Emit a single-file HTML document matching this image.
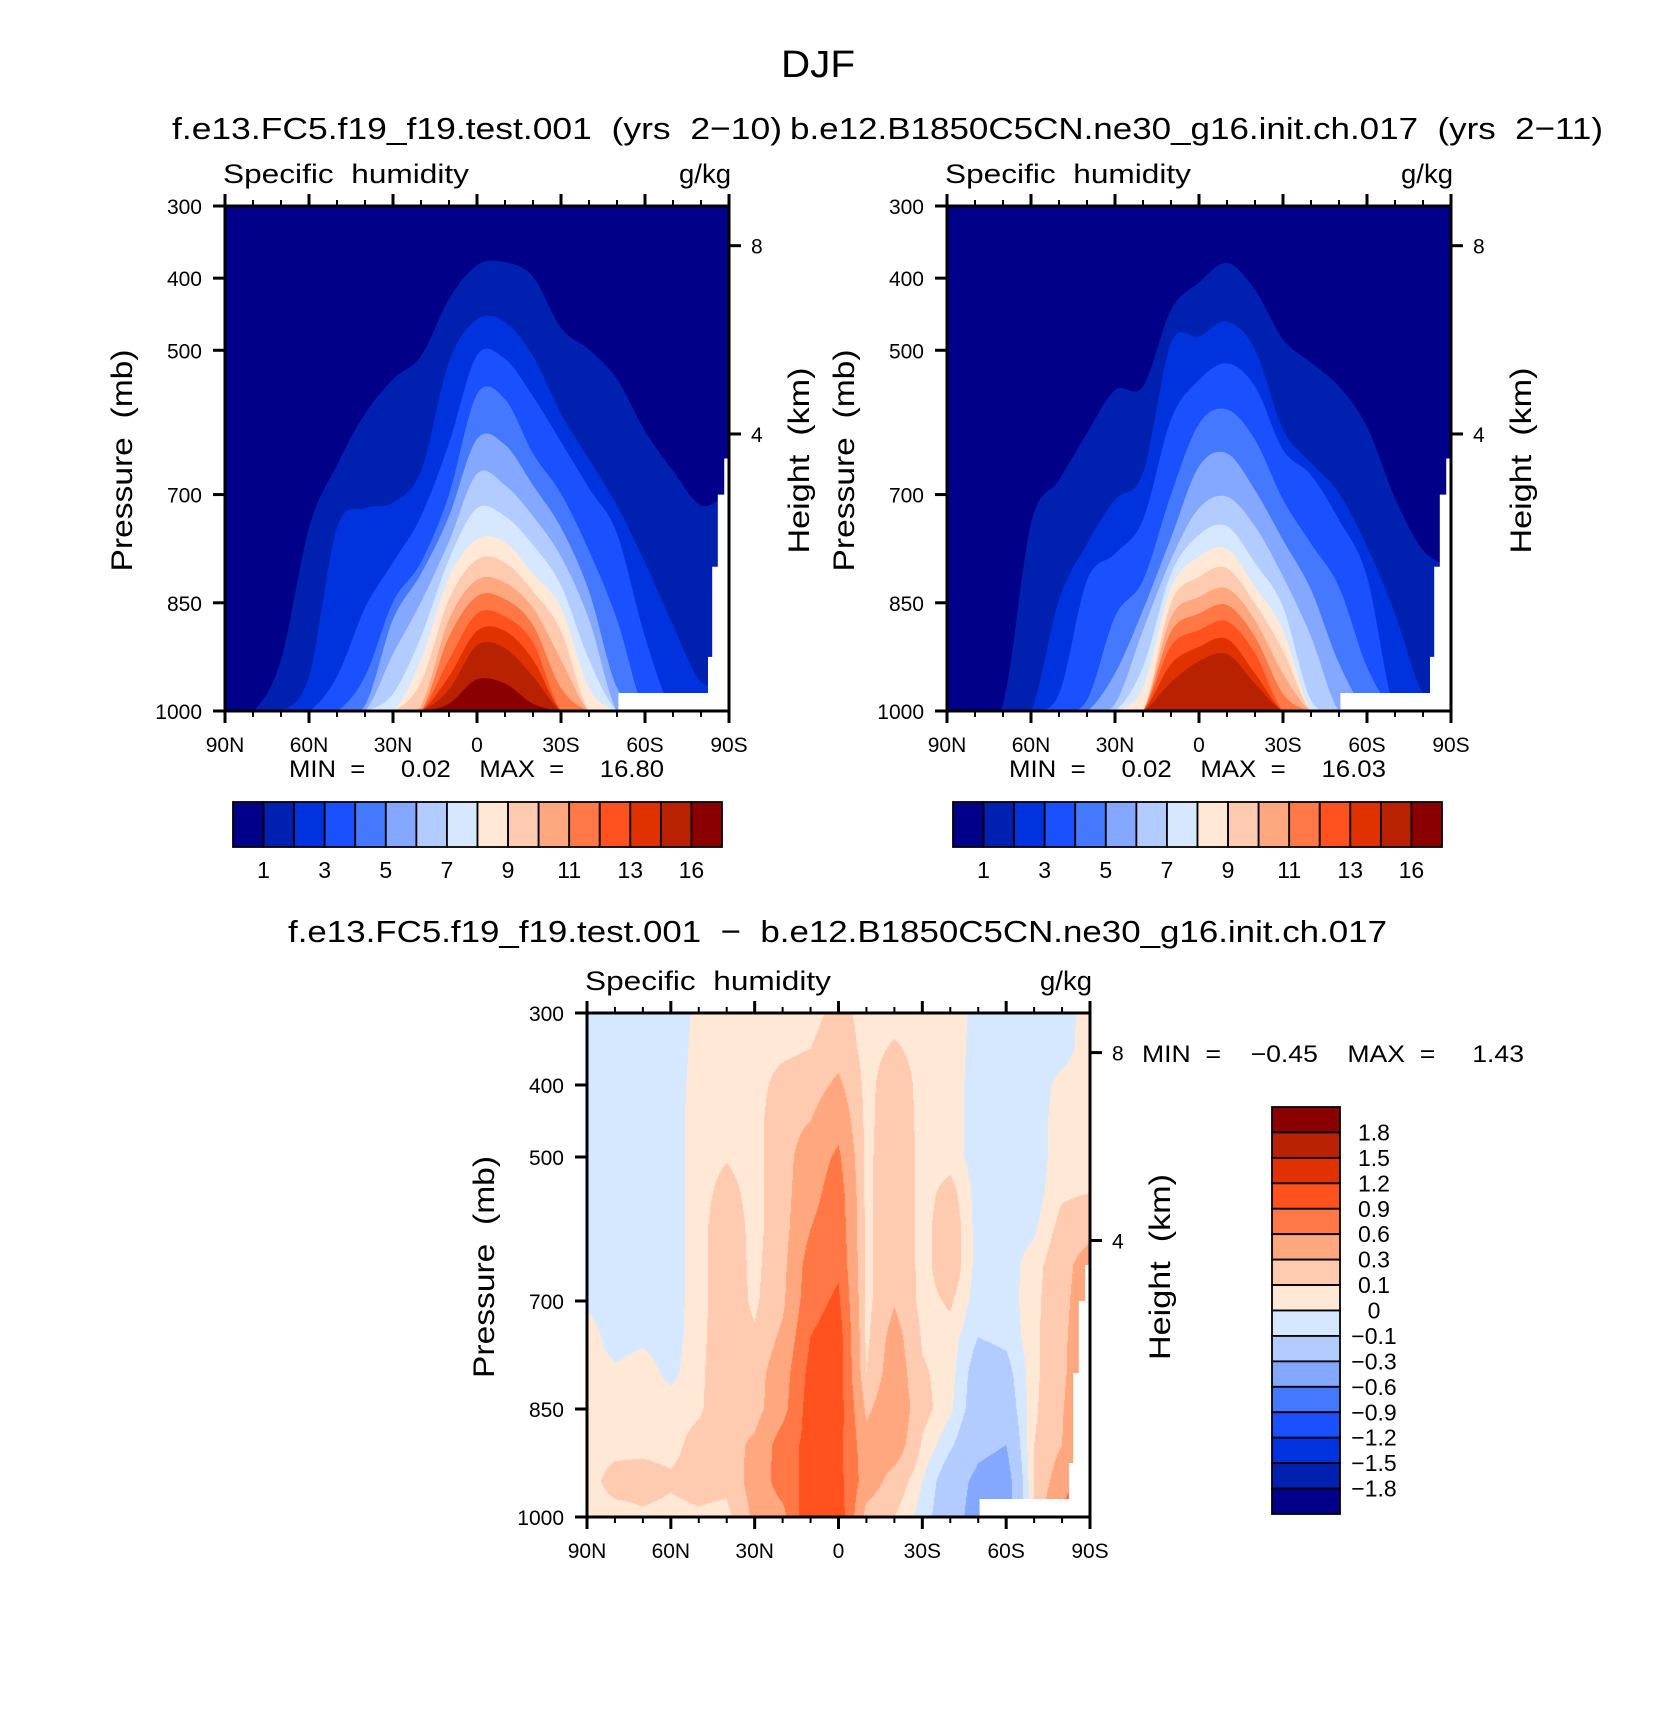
<!DOCTYPE html>
<html><head><meta charset="utf-8">
<style>
html,body{margin:0;padding:0;background:#fff;}
#wrap{position:relative;width:1680px;height:1724px;overflow:hidden;}
#diffCanvas{position:absolute;left:587px;top:1013px;}
#fig{position:absolute;left:0;top:0;}
text{font-family:"Liberation Sans",sans-serif;fill:#000;white-space:pre;}
</style></head>
<body>
<div id="wrap">
<canvas id="diffCanvas" width="503" height="504"></canvas>
<svg id="fig" width="1680" height="1724" xmlns="http://www.w3.org/2000/svg"></svg>
</div>
<script>
// ---------- data ----------
const lats=[90,80,70,60,50,40,30,20,10,0,-10,-20,-30,-40,-50,-60,-70,-80,-90];
const pressureTicks=[300,400,500,700,850,1000];
const latTicks=[90,60,30,0,-30,-60,-90];
const latLabels=['90N','60N','30N','0','30S','60S','90S'];
const heightTickKm=['8','4'];
const heightTickP=[355,616];
const levelColors=['#000088','#0020b0','#0033dd','#1a50ff','#4479ff','#84a8ff','#b3ccff','#d6e8ff','#ffe9d6','#ffcbb0','#ffa880','#ff7845','#ff521e','#e03200','#b82200','#8a0000'];
const qLabels=['1','3','5','7','9','11','13','16'];
const diffLevels=[-1.8,-1.5,-1.2,-0.9,-0.6,-0.3,-0.1,0,0.1,0.3,0.6,0.9,1.2,1.5,1.8];
const diffLabels=['1.8','1.5','1.2','0.9','0.6','0.3','0.1','0','\u22120.1','\u22120.3','\u22120.6','\u22120.9','\u22121.2','\u22121.5','\u22121.8'];
const diffRowsP=[300,350,400,450,500,550,600,650,700,750,800,850,900,950,1000];
const n=null;
// contour-level boundaries (pressure in mb of top of each level region, per latitude)
const ctlLevelTops=[
[n,1000,929,746,659,588,540,508,429,382,378,398,469,499,540,612,667,715,699],
[n,n,n,952,746,719,711,667,516,457,461,508,588,651,715,794,881,960,960],
[n,n,n,n,952,857,794,730,629,507,512,564,627,691,754,897,n,n,n],
[n,n,n,n,n,952,849,794,700,561,568,643,699,778,873,n,n,n,n],
[n,n,n,n,n,992,873,810,730,623,631,687,746,834,968,n,n,n,n],
[n,n,n,n,n,n,921,849,765,671,687,730,786,873,n,n,n,n,n],
[n,n,n,n,n,n,976,897,790,719,730,770,826,929,n,n,n,n,n],
[n,n,n,n,n,n,n,929,815,762,766,810,857,968,n,n,n,n,n],
[n,n,n,n,n,n,n,960,845,790,794,834,889,n,n,n,n,n,n],
[n,n,n,n,n,n,n,992,873,818,822,857,929,n,n,n,n,n,n],
[n,n,n,n,n,n,n,n,897,841,845,881,968,n,n,n,n,n,n],
[n,n,n,n,n,n,n,n,929,865,869,905,n,n,n,n,n,n,n],
[n,n,n,n,n,n,n,n,952,889,889,929,n,n,n,n,n,n,n],
[n,n,n,n,n,n,n,n,970,909,913,952,n,n,n,n,n,n,n],
[n,n,n,n,n,n,n,n,990,956,962,990,n,n,n,n,n,n,n]
];
const expLevelTops=[
[n,n,990,740,680,615,555,550,444,406,379,416,485,517,550,606,705,777,800],
[n,n,n,n,846,768,707,670,490,481,460,499,610,656,698,772,865,976,990],
[n,n,n,n,976,819,782,735,596,541,518,550,638,673,735,814,n,n,n],
[n,n,n,n,n,985,869,819,700,602,582,624,707,768,828,939,n,n,n],
[n,n,n,n,n,n,948,860,760,661,643,694,763,832,934,n,n,n,n],
[n,n,n,n,n,n,990,888,790,719,703,744,814,897,n,n,n,n,n],
[n,n,n,n,n,n,n,939,810,756,744,795,856,985,n,n,n,n,n],
[n,n,n,n,n,n,n,967,830,786,775,828,888,n,n,n,n,n,n],
[n,n,n,n,n,n,n,n,850,814,802,851,916,n,n,n,n,n,n],
[n,n,n,n,n,n,n,n,870,842,830,874,948,n,n,n,n,n,n],
[n,n,n,n,n,n,n,n,890,865,853,897,976,n,n,n,n,n,n],
[n,n,n,n,n,n,n,n,910,888,876,920,n,n,n,n,n,n,n],
[n,n,n,n,n,n,n,n,935,911,900,948,n,n,n,n,n,n,n],
[n,n,n,n,n,n,n,n,960,931,921,962,n,n,n,n,n,n,n]
];
// difference field, one column per latitude, rows = diffRowsP
const diffValues=[
[-.05,-.05,-.05,-.05,-.05,-.05,-.05,-.05,-.02,.05,.05,.05,.05,.05,.05],
[-.05,-.05,-.05,-.05,-.05,-.05,-.05,-.05,-.05,-.05,.02,.05,.06,.15,.05],
[-.05,-.05,-.05,-.05,-.05,-.05,-.05,-.05,-.05,-.02,.05,.05,.07,.15,.08],
[-.05,-.05,-.05,-.05,-.05,-.05,-.05,-.05,-.05,-.05,-.03,.05,.06,.12,.06],
[.02,.03,.04,.05,.05,.05,.05,.05,.05,.06,.07,.08,.15,.15,.08],
[.05,.05,.06,.08,.09,.15,.2,.2,.2,.2,.2,.2,.2,.15,.05],
[.05,.05,.05,.05,.05,.05,.05,.06,.07,.12,.2,.2,.35,.4,.35],
[.05,.07,.15,.2,.2,.2,.2,.22,.25,.35,.45,.5,.75,.75,.5],
[.05,.1,.2,.3,.45,.5,.6,.75,.8,.9,1.0,1.05,1.0,1.0,1.2],
[.15,.2,.35,.5,.65,.75,.8,.85,.95,1.05,1.05,1.05,1.0,1.0,1.1],
[.05,.05,.05,.05,.05,.05,.05,.05,.05,.06,.1,.25,.4,.45,.2],
[.05,.12,.2,.22,.25,.25,.25,.25,.28,.4,.45,.5,.45,.2,.1],
[.05,.05,.05,.05,.05,.05,.05,.05,.05,.08,.12,.15,.08,0,-.05],
[.05,.05,.05,.05,.05,.15,.2,.2,.12,.05,.04,.02,-.08,-.2,-.2],
[-.03,-.04,-.05,-.05,-.05,-.05,-.05,-.05,-.06,-.1,-.18,-.2,-.25,-.35,-.4],
[-.05,-.05,-.05,-.05,-.05,-.05,-.05,-.05,-.05,-.07,-.15,-.2,-.3,-.4,-.4],
[-.05,-.05,-.05,-.05,-.05,-.05,-.02,.05,.06,.06,.06,.07,.1,.1,.1],
[-.05,-.04,.03,.05,.05,.08,.15,.2,.22,.25,.25,.28,.3,.45,.7],
[.05,.05,.05,.05,.05,.1,.2,.45,.5,.5,.55,.6,.7,.8,.9]
];
const maskLats=[-50.5,-82.5,-84,-86,-88.3,-90];
const maskP=[975,925,800,700,650,650];

// ---------- helpers ----------
const NS='http://www.w3.org/2000/svg';
const svg=document.getElementById('fig');
function el(tag,attrs,parent){const e=document.createElementNS(NS,tag);for(const k in attrs)e.setAttribute(k,attrs[k]);(parent||svg).appendChild(e);return e;}
function txt(s,x,y,size,anchor,parent,extra){const t=el('text',Object.assign({x:x,y:y,'font-size':size,'text-anchor':anchor||'start'},extra||{}),parent);t.textContent=s;return t;}
function makeAxes(x0,y0,w,h){return{x0,y0,w,h,x:lat=>x0+(90-lat)/180*w,y:p=>y0+(p-300)/700*h};}
const A=makeAxes(225,206,504,505), B=makeAxes(947,206,504,505), C=makeAxes(587,1013,503,504);

function smoothPath(pts){
  let d='M'+pts[0][0]+','+pts[0][1];
  for(let i=0;i<pts.length-1;i++){
    const p0=pts[Math.max(0,i-1)],p1=pts[i],p2=pts[i+1],p3=pts[Math.min(pts.length-1,i+2)];
    const c1=[p1[0]+(p2[0]-p0[0])/6,p1[1]+(p2[1]-p0[1])/6];
    const c2=[p2[0]-(p3[0]-p1[0])/6,p2[1]-(p3[1]-p1[1])/6];
    d+=' C'+c1[0].toFixed(1)+','+c1[1].toFixed(1)+' '+c2[0].toFixed(1)+','+c2[1].toFixed(1)+' '+p2[0].toFixed(1)+','+p2[1].toFixed(1);
  }
  return d;
}

function drawFilled(ax,tops,id,name){
  const g=el('g',{'clip-path':'url(#'+id+')'});
  
  
  const cp=el('clipPath',{id:id});
  el('rect',{x:ax.x0,y:ax.y0,width:ax.w,height:ax.h},cp);
  const bg=el('rect',{x:ax.x0,y:ax.y0,width:ax.w,height:ax.h,fill:levelColors[0]},g);
  
  
  tops.forEach((row,k)=>{
    const pts=lats.map((lat,i)=>[ax.x(lat),ax.y(row[i]==null?1000:Math.min(row[i],1000))]);
    const d=smoothPath(pts)+' L'+ax.x(-90)+','+(ax.y(1000)+2)+' L'+ax.x(90)+','+(ax.y(1000)+2)+' Z';
    const path=el('path',{d:d,fill:levelColors[k+1]},g);
    
    
  });
  drawMask(ax,g);
}
function drawMask(ax,parent){
  let d='M'+ax.x(maskLats[0])+','+ax.y(1000)+' L'+ax.x(maskLats[0])+','+ax.y(maskP[0]);
  for(let i=1;i<maskLats.length;i++){d+=' L'+ax.x(maskLats[i])+','+ax.y(maskP[i-1])+' L'+ax.x(maskLats[i])+','+ax.y(maskP[i]);}
  d+=' L'+ax.x(-90)+','+ax.y(1000)+' Z';
  const m=el('path',{d:d,fill:'#fff'},parent);
  
  
}

function drawFrame(ax,opts){
  const g=el('g',{});
  
  
  el('rect',{x:ax.x0,y:ax.y0,width:ax.w,height:ax.h,fill:'none',stroke:'#000','stroke-width':3},g);
  for(let lat=90;lat>=-90;lat-=10){
    const major=lat%30===0, L=major?12:6, x=ax.x(lat);
    el('line',{x1:x,y1:ax.y0,x2:x,y2:ax.y0-L,stroke:'#000','stroke-width':major?3:2},g);
    el('line',{x1:x,y1:ax.y0+ax.h,x2:x,y2:ax.y0+ax.h+L,stroke:'#000','stroke-width':major?3:2},g);
  }
  latTicks.forEach((lat,i)=>{
    const t=txt(latLabels[i],ax.x(lat),ax.y(1000)+41,21,'middle',g);
    
    
  });
  pressureTicks.forEach(p=>{
    el('line',{x1:ax.x0,y1:ax.y(p),x2:ax.x0-12,y2:ax.y(p),stroke:'#000','stroke-width':3},g);
    const t=txt(String(p),ax.x0-23,ax.y(p)+8,21,'end',g);
    
    
  });
  heightTickP.forEach((p,i)=>{
    el('line',{x1:ax.x0+ax.w,y1:ax.y(p),x2:ax.x0+ax.w+12,y2:ax.y(p),stroke:'#000','stroke-width':3},g);
    const t=txt(heightTickKm[i],ax.x0+ax.w+22,ax.y(p)+8,21,'start',g);
    
    
  });
  const cy=ax.y0+ax.h/2;
  const pt=txt('Pressure  (mb)',0,0,30,'middle',g,{transform:'translate('+(ax.x0-93)+','+(cy+2)+') rotate(-90)',textLength:222,lengthAdjust:'spacingAndGlyphs'});
  
  
  const ht=txt('Height  (km)',0,0,30,'middle',g,{transform:'translate('+(ax.x0+ax.w+80)+','+(cy+2)+') rotate(-90)',textLength:186,lengthAdjust:'spacingAndGlyphs'});
  
  
  const sh=txt('Specific  humidity',ax.x0-2,ax.y0-23,27,'start',g,{textLength:246,lengthAdjust:'spacingAndGlyphs'});
  
  
  const un=txt('g/kg',ax.x0+ax.w+2,ax.y0-23,27,'end',g,{textLength:52,lengthAdjust:'spacingAndGlyphs'});
  
  
}

function drawHBar(x0,y0,w,h,name){
  const g=el('g',{});
  
  
  const bw=w/levelColors.length;
  levelColors.forEach((c,i)=>{
    const r=el('rect',{x:x0+i*bw,y:y0,width:bw,height:h,fill:c,stroke:'#000','stroke-width':1.8},g);
    
    
  });
  qLabels.forEach((s,i)=>{
    const t=txt(s,x0+(2*i+1)*bw,y0+h+31,23,'middle',g);
    
    
  });
}

// ---------- difference canvas ----------
(function(){
  const cv=document.getElementById('diffCanvas'),ctx=cv.getContext('2d');
  const W=cv.width,H=cv.height,img=ctx.createImageData(W,H);
  const rgb=levelColors.map(h=>[parseInt(h.substr(1,2),16),parseInt(h.substr(3,2),16),parseInt(h.substr(5,2),16)]);
  for(let j=0;j<H;j++){
    const p=300+(j+0.5)/H*700; let r=(p-300)/50; let r0=Math.min(13,Math.floor(r)); const fr=r-r0;
    for(let i=0;i<W;i++){
      const lat=90-(i+0.5)/W*180; let c=(90-lat)/10; let c0=Math.min(17,Math.floor(c)); const fc=c-c0;
      const v=(1-fc)*((1-fr)*diffValues[c0][r0]+fr*diffValues[c0][r0+1])+fc*((1-fr)*diffValues[c0+1][r0]+fr*diffValues[c0+1][r0+1]);
      let k=0; while(k<diffLevels.length&&v>=diffLevels[k])k++;
      const col=rgb[k],o=(j*W+i)*4;
      img.data[o]=col[0];img.data[o+1]=col[1];img.data[o+2]=col[2];img.data[o+3]=255;
    }
  }
  ctx.putImageData(img,0,0);
})();

// ---------- draw ----------
drawFilled(A,ctlLevelTops,'clipA','test-contour-field');
drawFilled(B,expLevelTops,'clipB','control-contour-field');
const gm=el('g',{'clip-path':'url(#clipC)'});


const cpc=el('clipPath',{id:'clipC'});el('rect',{x:C.x0,y:C.y0,width:C.w,height:C.h},cpc);
drawMask(C,gm);
drawFrame(A,{name:'test-panel'});
drawFrame(B,{name:'control-panel'});
drawFrame(C,{name:'difference-panel'});

let t;
t=txt('DJF',818,77,38,'middle',svg,{textLength:74,lengthAdjust:'spacingAndGlyphs'});


t=txt('f.e13.FC5.f19_f19.test.001  (yrs  2\u221210)',172,139,31,'start',svg,{textLength:610,lengthAdjust:'spacingAndGlyphs'});


t=txt('b.e12.B1850C5CN.ne30_g16.init.ch.017  (yrs  2\u221211)',790,139,31,'start',svg,{textLength:813,lengthAdjust:'spacingAndGlyphs'});


t=txt('f.e13.FC5.f19_f19.test.001  \u2212  b.e12.B1850C5CN.ne30_g16.init.ch.017',288,942,31,'start',svg,{textLength:1099,lengthAdjust:'spacingAndGlyphs'});


t=txt('MIN  =     0.02    MAX  =     16.80',289,777,24,'start',svg,{textLength:375,lengthAdjust:'spacingAndGlyphs'});


t=txt('MIN  =     0.02    MAX  =     16.03',1009,777,24,'start',svg,{textLength:377,lengthAdjust:'spacingAndGlyphs'});


t=txt('MIN  =    \u22120.45    MAX  =     1.43',1142,1062,24,'start',svg,{textLength:382,lengthAdjust:'spacingAndGlyphs'});



drawHBar(233,802,489,45,'test-colorbar');
drawHBar(953,802,489,45,'control-colorbar');

// vertical difference colorbar
(function(){
  const g=el('g',{});
  
  
  const x0=1272,y0=1107,w=68,h=407,n=levelColors.length,bh=h/n;
  for(let i=0;i<n;i++){
    const r=el('rect',{x:x0,y:y0+i*bh,width:w,height:bh,fill:levelColors[n-1-i],stroke:'#000','stroke-width':1.8},g);
    
    
  }
  diffLabels.forEach((s,i)=>{
    const tt=txt(s,1374,y0+(i+1)*bh+8,23,'middle',g);
    
    
  });
})();
</script>
</body></html>
